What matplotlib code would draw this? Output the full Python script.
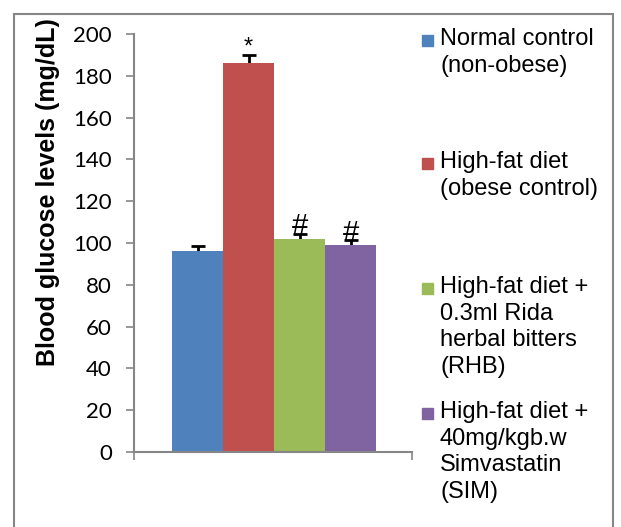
import numpy as np
import matplotlib.pyplot as plt
from matplotlib.patches import Rectangle

# Data
groups = ['Normal control\n(non-obese)',
          'High-fat diet\n(obese control)',
          'High-fat diet +\n0.3ml Rida\nherbal bitters\n(RHB)',
          'High-fat diet +\n40mg/kgb.w\nSimvastatin\n(SIM)']
glucose = [96, 186, 102, 99]
sem = [2.5, 4.0, 2.5, 2.5]
marks = ['', '*', '#', '#']
colors = ['#4F81BD', '#C0504D', '#9BBB59', '#8064A2']
yticks = np.arange(0, 201, 20)

plt.rcParams['font.family'] = ['Liberation Sans', 'DejaVu Sans']
fig = plt.figure(figsize=(6.21, 5.27), dpi=100)
ax = fig.add_axes([134 / 621, 1 - 452 / 527, 278 / 621, 418 / 527])

x = np.arange(len(glucose))
# error bars go behind the bars so only the upper half shows
ax.errorbar(x, glucose, yerr=sem, fmt='none', ecolor='black',
            elinewidth=2, capsize=5, capthick=2, zorder=1)
ax.bar(x, glucose, width=1.0, color=colors, zorder=2)

for xi, v, e, m in zip(x, glucose, sem, marks):
    if m == '*':
        ax.text(xi, v + e + 3.5, m, ha='center', va='center', fontsize=17)
    elif m:
        ax.text(xi, v + e + 3.5, m, ha='center', va='center', fontsize=21)

ax.set_xlim(-1.245, 4.205)
ax.set_ylim(0, 200)
ax.set_yticks(yticks)
ax.set_yticklabels([str(t) for t in yticks], fontsize=16, family=['Lato', 'DejaVu Sans'])
ax.set_xticks([-1.245, 4.205])
ax.set_xticklabels(['', ''])
ax.tick_params(axis='both', direction='out', length=6, width=1.2, color='#868686')
ax.tick_params(axis='y', pad=10)
for s in ['top', 'right']:
    ax.spines[s].set_visible(False)
for s in ['left', 'bottom']:
    ax.spines[s].set_color('#868686')
    ax.spines[s].set_linewidth(1.5)

ax.set_ylabel('Blood glucose levels (mg/dL)', fontsize=18, fontweight='bold')
ax.yaxis.set_label_coords(-0.266, 0.623)

# legend laid out like the Excel one
legend_y = [40, 163, 288, 413]
for lab, c, yy in zip(groups, colors, legend_y):
    fig.patches.append(Rectangle((422 / 621, 1 - (yy + 5.5) / 527), 11 / 621, 11 / 527,
                                 transform=fig.transFigure, color=c))
    fig.text(440 / 621, 1 - (yy - 12) / 527, lab, fontsize=17, va='top', ha='left',
             linespacing=1.27)

# outer chart frame
fig.patches.append(Rectangle((14 / 621, -0.05), 599 / 621, 1.05 - 14 / 527,
                             transform=fig.transFigure, fill=False,
                             edgecolor='#868686', linewidth=1.5))

fig.savefig('out.png', dpi=100)
